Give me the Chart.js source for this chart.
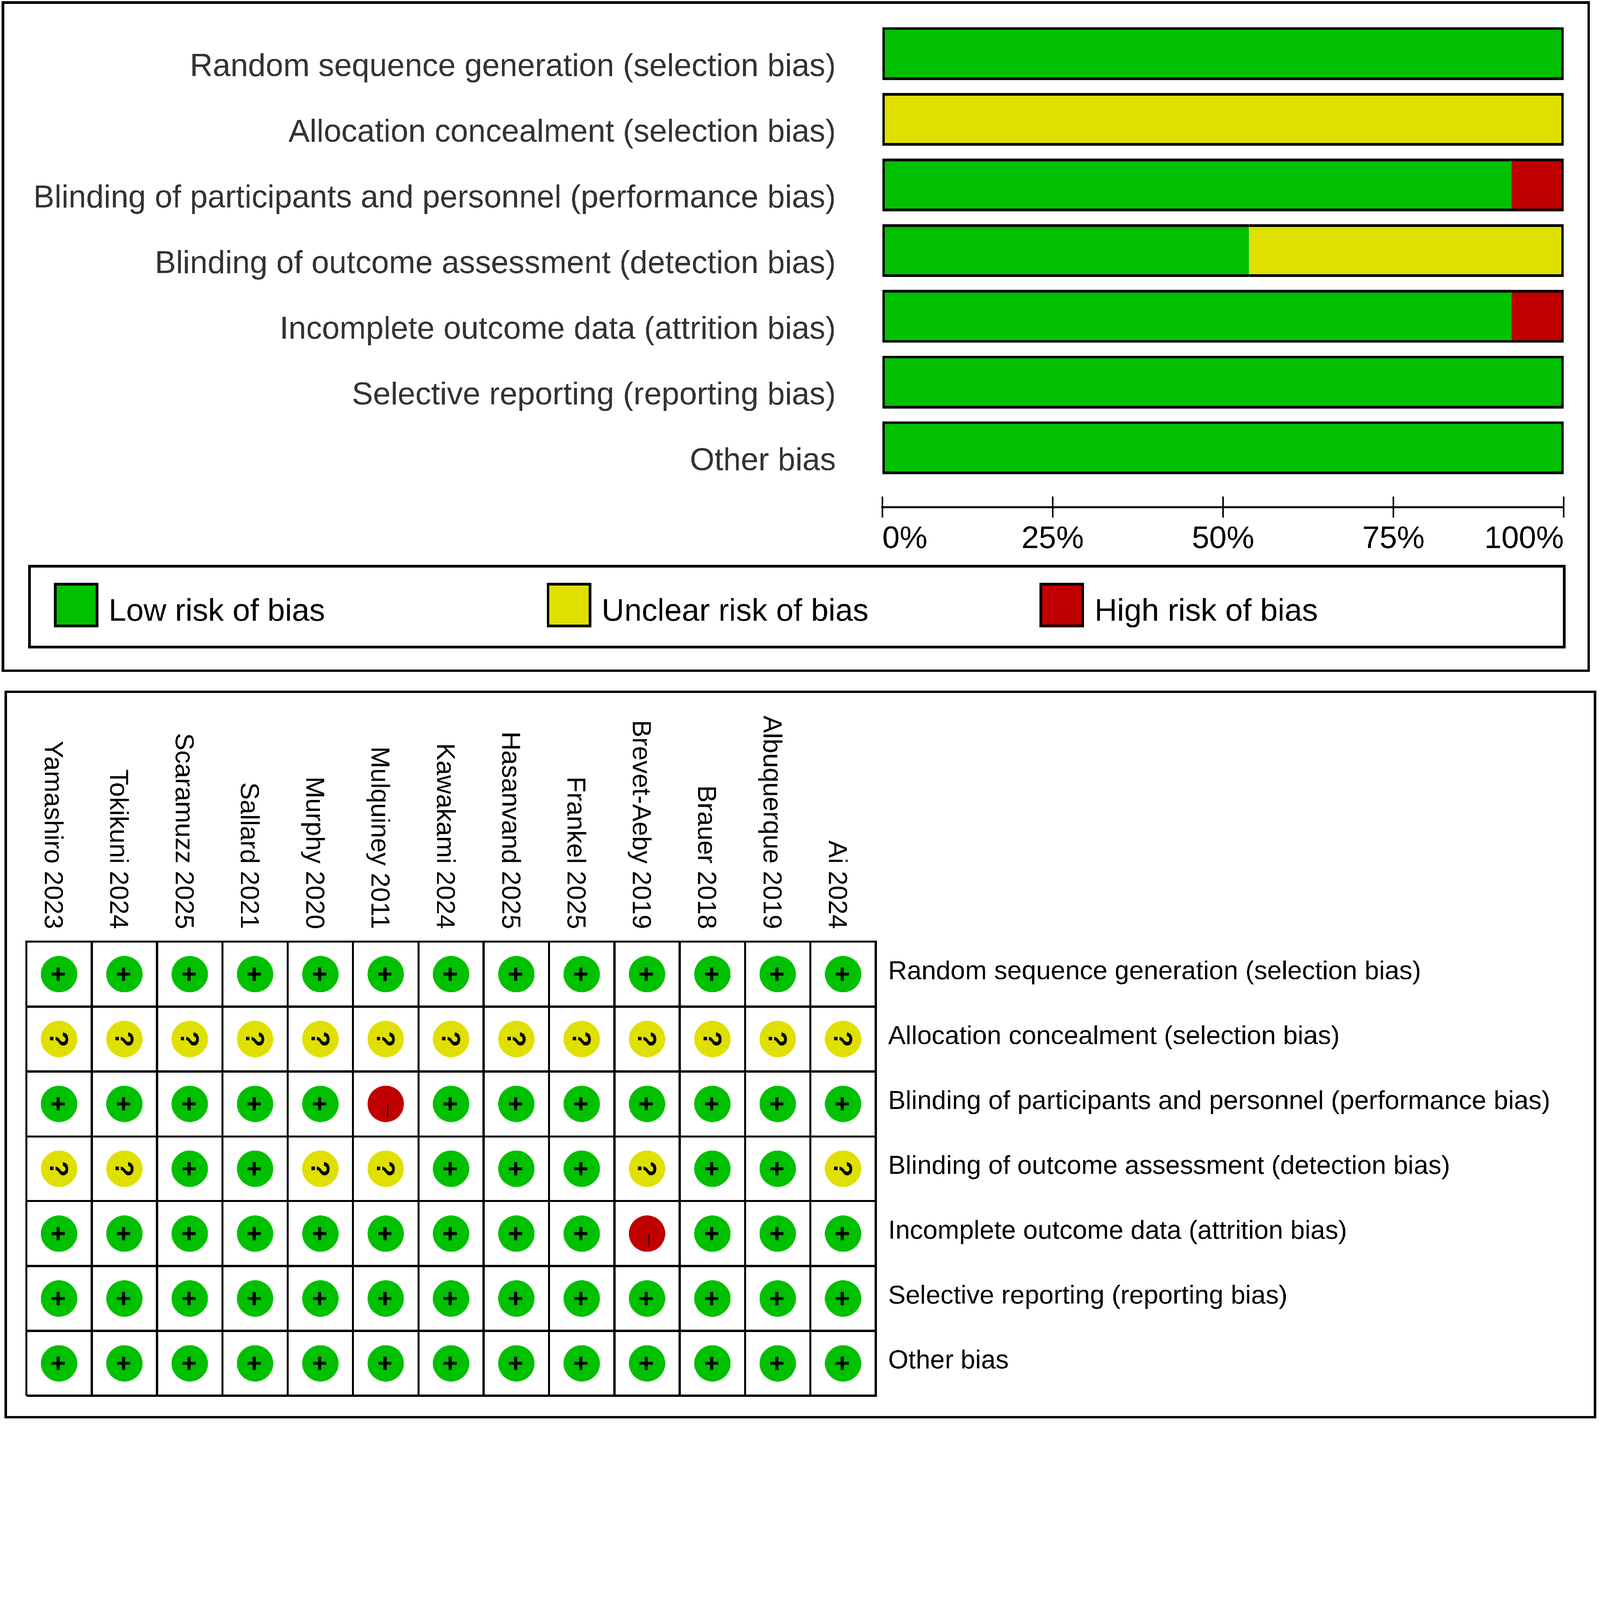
<!DOCTYPE html>
<html>
<head>
<meta charset="utf-8">
<title>Risk of bias graph and summary</title>
<script src="https://cdn.jsdelivr.net/npm/chart.js@4.4.1/dist/chart.umd.min.js"></script>
<style>
  html, body { margin: 0; padding: 0; background: #ffffff; overflow: hidden; }
  #page { position: absolute; left: 0; top: 0; width: 6064px; height: 5384px; transform-origin: 0 0; background: #ffffff; }
  canvas { position: absolute; left: 0; display: block; }
  #graph { top: 0; }
  #summary { top: 2580px; }
</style>
</head>
<body>
<div id="page">
<canvas id="graph" width="6064" height="2580" style="width:6064px;height:2580px"></canvas>
<canvas id="summary" width="6064" height="2804" style="width:6064px;height:2804px"></canvas>
</div>
<script>
// fit the 6064 x 5384 drawing to the actual viewport
(function () {
  const s = Math.min(window.innerWidth / 6064, window.innerHeight / 5384) || 1;
  document.getElementById('page').style.transform = 'scale(' + s + ')';
})();

// ---------------- data ----------------
const domains = [
  'Random sequence generation (selection bias)',
  'Allocation concealment (selection bias)',
  'Blinding of participants and personnel (performance bias)',
  'Blinding of outcome assessment (detection bias)',
  'Incomplete outcome data (attrition bias)',
  'Selective reporting (reporting bias)',
  'Other bias'
];
const studies = [
  'Yamashiro 2023', 'Tokikuni 2024', 'Scaramuzz 2025', 'Sallard 2021', 'Murphy 2020',
  'Mulquiney 2011', 'Kawakami 2024', 'Hasanvand 2025', 'Frankel 2025', 'Brevet-Aeby 2019',
  'Brauer 2018', 'Albuquerque 2019', 'Ai 2024'
];
// risk of bias graph (percent of studies)
const lowRisk     = [100, 0,   92.3, 53.8, 92.3, 100, 100];
const unclearRisk = [0,   100, 0,    46.2, 0,    0,   0];
const highRisk    = [0,   0,   7.7,  0,    7.7,  0,   0];
const percentTicks  = [0, 25, 50, 75, 100];
const percentLabels = ['0%', '25%', '50%', '75%', '100%'];
const riskLabels = ['Low risk of bias', 'Unclear risk of bias', 'High risk of bias'];
// risk of bias summary (one judgement per study, same order as studies)
const randomSequence        = ['+','+','+','+','+','+','+','+','+','+','+','+','+'];
const allocationConcealment = ['?','?','?','?','?','?','?','?','?','?','?','?','?'];
const blindingParticipants  = ['+','+','+','+','+','-','+','+','+','+','+','+','+'];
const blindingOutcome       = ['?','?','+','+','?','?','+','+','+','?','+','+','?'];
const incompleteData        = ['+','+','+','+','+','+','+','+','+','-','+','+','+'];
const selectiveReporting    = ['+','+','+','+','+','+','+','+','+','+','+','+','+'];
const otherBias             = ['+','+','+','+','+','+','+','+','+','+','+','+','+'];

// ---------------- styles ----------------
const FONT = "'Liberation Sans', Arial, Helvetica, sans-serif";
const GREEN = '#00c000', YELLOW = '#e0e000', RED = '#c00000';
Chart.defaults.font.family = FONT;
Chart.defaults.color = '#000';

// ---------------- top: risk of bias graph ----------------
const seriesList = [lowRisk, unclearRisk, highRisk];
function segmentBorder(ctx) {
  const d = ctx.datasetIndex, i = ctx.dataIndex;
  if (i === undefined || d === undefined) return 0;
  const v = seriesList[d][i];
  if (!v) return 0;
  let first = true, last = true;
  for (let k = 0; k < d; k++) if (seriesList[k][i] > 0) first = false;
  for (let k = d + 1; k < seriesList.length; k++) if (seriesList[k][i] > 0) last = false;
  return { top: 10, bottom: 10, left: first ? 10 : 0, right: last ? 10 : 0 };
}

const graphFrame = {
  id: 'graphFrame',
  afterDraw(chart) {
    const ctx = chart.ctx;
    ctx.save();
    ctx.strokeStyle = '#000';
    ctx.lineWidth = 10;
    ctx.strokeRect(11, 10, 6010, 2532);
    ctx.strokeRect(112, 2146, 5816, 306);
    const xs = [204, 2072, 3940];
    ctx.font = '119px ' + FONT;
    ctx.textAlign = 'left';
    ctx.textBaseline = 'alphabetic';
    chart.data.datasets.forEach((ds, k) => {
      const x = xs[k], y = 2209;
      ctx.fillStyle = '#000';
      ctx.fillRect(x, y, 169, 169);
      ctx.fillStyle = ds.backgroundColor;
      ctx.fillRect(x + 10, y + 10, 149, 149);
      ctx.fillStyle = '#000';
      ctx.fillText(ds.label, x + 208, 2353);
    });
    ctx.restore();
  }
};

const barCommon = {
  borderColor: '#000',
  borderWidth: segmentBorder,
  borderSkipped: false,
  barPercentage: 0.803,
  categoryPercentage: 1.0
};

new Chart(document.getElementById('graph'), {
  type: 'bar',
  data: {
    labels: domains,
    datasets: [
      Object.assign({ label: riskLabels[0], data: lowRisk, backgroundColor: GREEN }, barCommon),
      Object.assign({ label: riskLabels[1], data: unclearRisk, backgroundColor: YELLOW }, barCommon),
      Object.assign({ label: riskLabels[2], data: highRisk, backgroundColor: RED }, barCommon)
    ]
  },
  options: {
    indexAxis: 'y',
    responsive: false,
    animation: false,
    devicePixelRatio: 1,
    events: [],
    layout: { padding: { left: 0, right: 137, top: 78.5, bottom: 458.5 } },
    plugins: { legend: { display: false }, tooltip: { enabled: false } },
    scales: {
      y: {
        type: 'category',
        stacked: true,
        offset: true,
        grid: { display: true, drawOnChartArea: false, drawTicks: true, tickLength: 176, tickColor: 'rgba(0,0,0,0)' },
        border: { display: false },
        ticks: { autoSkip: false, padding: 0, labelOffset: 52, color: '#333333', font: { size: 120 } },
        afterFit(s) { s.width = 3344; }
      },
      x: {
        type: 'linear',
        stacked: true,
        min: 0, max: 100,
        weight: 0,
        grid: { display: false },
        border: { display: false },
        ticks: { display: false },
        afterFit(s) { s.height = 60; }
      },
      xTick: {
        type: 'linear',
        position: 'bottom',
        min: 0, max: 100,
        weight: 1,
        afterBuildTicks(s) { s.ticks = percentTicks.map(v => ({ value: v })); },
        grid: { display: true, drawOnChartArea: false, drawTicks: true, tickLength: 40, lineWidth: 6, color: '#000' },
        border: { display: false },
        ticks: { display: false },
        afterFit(s) { s.height = 40; }
      },
      xAxis: {
        type: 'linear',
        position: 'bottom',
        min: 0, max: 100,
        weight: 2,
        afterBuildTicks(s) { s.ticks = percentTicks.map(v => ({ value: v })); },
        grid: { display: true, drawOnChartArea: false, drawTicks: true, tickLength: 40, lineWidth: 6, color: '#000' },
        border: { display: true, width: 8, color: '#000' },
        ticks: {
          align: 'inner',
          padding: 12,
          color: '#000',
          font: { size: 118 },
          callback: (v) => percentLabels[percentTicks.indexOf(v)]
        },
        afterFit(s) { s.height = 200; }
      }
    }
  },
  plugins: [graphFrame]
});

// ---------------- bottom: risk of bias summary ----------------
class RotatedTopCategoryScale extends Chart.CategoryScale {
  _computeLabelItems(chartArea) {
    const items = super._computeLabelItems(chartArea);
    for (const it of items) {
      if (it.options) it.options.textAlign = 'right';
      else it.textAlign = 'right';
    }
    return items;
  }
}
RotatedTopCategoryScale.id = 'rotatedTopCategory';
RotatedTopCategoryScale.defaults = Chart.CategoryScale.defaults;
Chart.register(RotatedTopCategoryScale);

function makeMarker(fill, symbol) {
  const s = 144, c = s / 2;
  const cv = document.createElement('canvas');
  cv.width = s; cv.height = s;
  const g = cv.getContext('2d');
  g.fillStyle = fill;
  g.beginPath();
  g.arc(c, c, 69, 0, Math.PI * 2);
  g.fill();
  g.fillStyle = '#000';
  if (symbol === '+') {
    g.fillRect(c - 28, c - 5.5, 50, 11);
    g.fillRect(c - 9, c - 25, 12, 50);
  } else if (symbol === '?') {
    g.save();
    g.translate(c, c);
    g.rotate(Math.PI / 2);
    g.font = 'bold 98px ' + FONT;
    g.textAlign = 'left';
    g.textBaseline = 'alphabetic';
    const m = g.measureText('?');
    const cx = (m.actualBoundingBoxRight - m.actualBoundingBoxLeft) / 2;
    const cy = (m.actualBoundingBoxDescent - m.actualBoundingBoxAscent) / 2;
    g.fillText('?', -cx, -cy);
    g.restore();
  } else {
    g.fillRect(c + 5, c + 2, 4, 46);
  }
  return cv;
}

const judgementRows = [randomSequence, allocationConcealment, blindingParticipants,
  blindingOutcome, incompleteData, selectiveReporting, otherBias];
function cellsFor(mark) {
  const pts = [];
  judgementRows.forEach((row, r) => row.forEach((j, c) => {
    if (j === mark) pts.push({ x: studies[c], y: domains[r] });
  }));
  return pts;
}

const summaryFrame = {
  id: 'summaryFrame',
  afterDraw(chart) {
    const ctx = chart.ctx;
    ctx.save();
    ctx.strokeStyle = '#000';
    ctx.lineWidth = 9;
    ctx.strokeRect(22, 42, 6023, 2749);
    ctx.restore();
  }
};

const gridStyle = { display: true, offset: true, color: '#000', lineWidth: 8, drawTicks: false };

new Chart(document.getElementById('summary'), {
  type: 'scatter',
  data: {
    datasets: [
      { label: riskLabels[0], data: cellsFor('+'), backgroundColor: GREEN, pointStyle: makeMarker(GREEN, '+'), pointRadius: 69, pointHoverRadius: 69 },
      { label: riskLabels[1], data: cellsFor('?'), backgroundColor: YELLOW, pointStyle: makeMarker(YELLOW, '?'), pointRadius: 69, pointHoverRadius: 69 },
      { label: riskLabels[2], data: cellsFor('-'), backgroundColor: RED, pointStyle: makeMarker(RED, '-'), pointRadius: 69, pointHoverRadius: 69 }
    ]
  },
  options: {
    responsive: false,
    animation: false,
    devicePixelRatio: 1,
    events: [],
    layout: { padding: { left: 100, right: 45, top: 89, bottom: 94 } },
    plugins: { legend: { display: false }, tooltip: { enabled: false } },
    scales: {
      x: {
        type: 'rotatedTopCategory',
        position: 'top',
        labels: studies,
        offset: true,
        grid: gridStyle,
        border: { display: true, color: '#000', width: 8 },
        ticks: { autoSkip: false, minRotation: -90, maxRotation: -90, padding: 48, labelOffset: -145, color: '#000', font: { size: 99 } },
        afterFit(s) { s.height = 900; }
      },
      y: {
        type: 'category',
        position: 'right',
        labels: domains,
        offset: true,
        grid: { display: true, offset: true, color: '#000', lineWidth: 8, drawTicks: true, tickLength: 47, tickColor: 'rgba(0,0,0,0)' },
        border: { display: true, color: '#000', width: 8 },
        ticks: { autoSkip: false, padding: 0, labelOffset: -8, color: '#000', font: { size: 99 } },
        afterFit(s) { s.width = 2700; }
      }
    }
  },
  plugins: [summaryFrame]
});
</script>
</body>
</html>
